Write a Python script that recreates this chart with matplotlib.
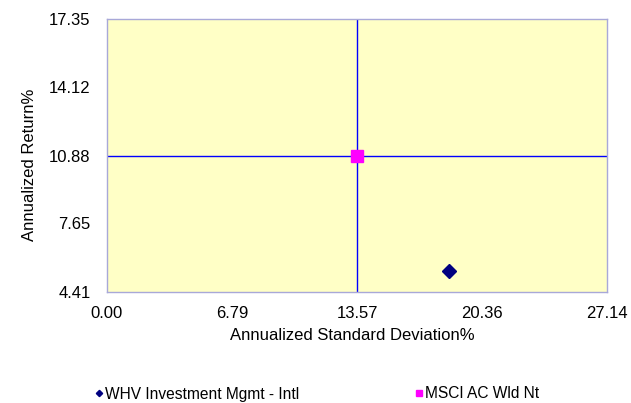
import matplotlib.pyplot as plt
from matplotlib.lines import Line2D

plt.rcParams['font.family'] = ['Liberation Sans', 'DejaVu Sans']

# data
names = ['WHV Investment Mgmt - Intl', 'MSCI AC Wld Nt']
std_dev = [18.57, 13.57]
returns = [5.38, 10.88]
markers = ['D', 's']
colors = ['#000080', '#FF00FF']

xticks = [0.00, 6.79, 13.57, 20.36, 27.14]
yticks = [4.41, 7.65, 10.88, 14.12, 17.35]
x_cross = 13.57
y_cross = 10.88

W, H = 631, 403
fig = plt.figure(figsize=(W / 100, H / 100), dpi=100)
ax = fig.add_axes([106.7 / W, 1 - 291.7 / H, 500.6 / W, 272.4 / H])
ax.set_facecolor('#FFFFC6')
for s in ax.spines.values():
    s.set_color('#A8A8D8')
    s.set_linewidth(1)

ax.axvline(x_cross, color='#0000FF', lw=1, zorder=2)
ax.axhline(y_cross, color='#0000FF', lw=1, zorder=2)

sizes = [7, 9]
for x, y, m, c, ms in zip(std_dev, returns, markers, colors, sizes):
    ax.plot([x], [y], marker=m, color=c, ms=ms, ls='none', zorder=3)

ax.set_xlim(xticks[0], xticks[-1])
ax.set_ylim(yticks[0], yticks[-1])
ax.set_xticks(xticks)
ax.set_yticks(yticks)
ax.set_xticklabels(['%.2f' % v for v in xticks])
ax.set_yticklabels(['%.2f' % v for v in yticks])
ax.tick_params(length=0, labelsize=12)
ax.tick_params(axis='x', pad=10.5)
ax.tick_params(axis='y', pad=11.5)
ax.set_xlabel('Annualized Standard Deviation%', fontsize=12, labelpad=5)
ax.set_ylabel('Annualized Return%', fontsize=12, labelpad=9)
ax.xaxis.label.set_x(0.49)
ax.yaxis.label.set_y(0.465)

# legend, one entry at a time so each sits where the reference has it
leg_x = [94.3, 414.6]
leg_ms = [3.2, 5]
for name, m, c, ms, lx in zip(names, markers, colors, leg_ms, leg_x):
    h = Line2D([], [], marker=m, color=c, ls='none', ms=ms)
    fig.legend([h], [name], loc='center left', bbox_to_anchor=(lx / W, 1 - 394 / H),
               frameon=False, fontsize=11.2, handlelength=0.6, handletextpad=0.1,
               borderpad=0, borderaxespad=0)

fig.savefig('out.png', dpi=100)
